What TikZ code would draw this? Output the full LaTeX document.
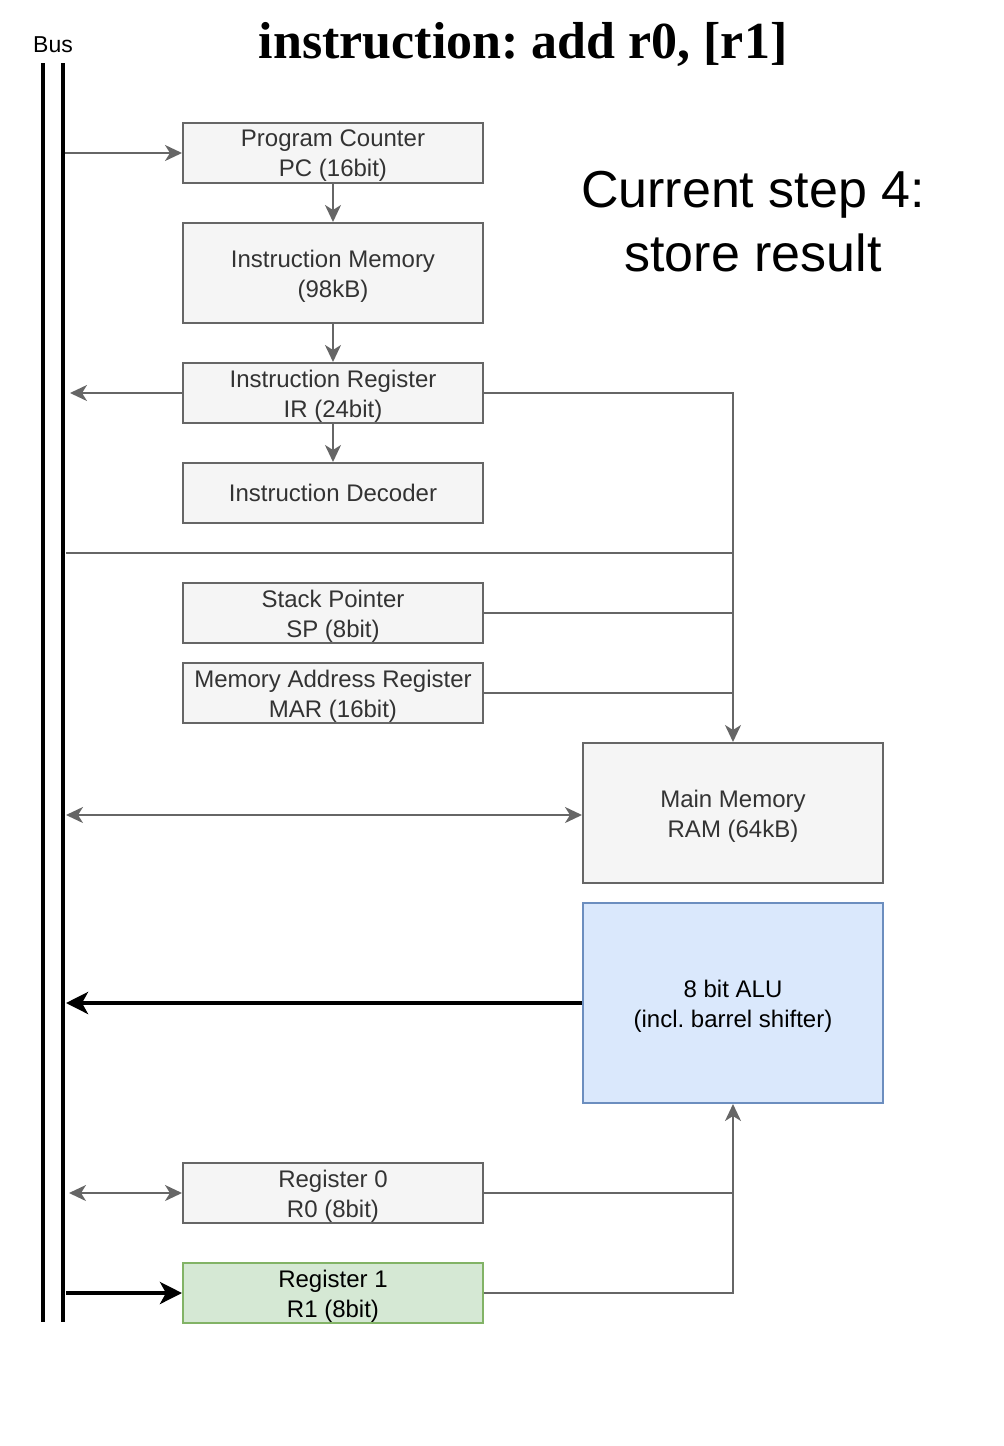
\documentclass[tikz,border=0pt]{standalone}
\usepackage{fontspec}
\setmainfont{Liberation Sans}
\newfontfamily\titlefont{Liberation Serif}
\usetikzlibrary{arrows.meta}
\frenchspacing
\definecolor{gfill}{HTML}{F5F5F5}
\definecolor{gstroke}{HTML}{666666}
\definecolor{gtext}{HTML}{333333}
\definecolor{bfill}{HTML}{DAE8FC}
\definecolor{bstroke}{HTML}{6C8EBF}
\definecolor{grfill}{HTML}{D5E8D4}
\definecolor{grstroke}{HTML}{82B366}
\tikzset{
  box/.style={draw=gstroke, fill=gfill, line width=2pt, minimum width=300pt, minimum height=60pt,
    inner sep=0pt},
  btext/.style={inner sep=0pt, align=center, text=gtext, font=\fontsize{24}{30}\selectfont},
  gline/.style={draw=gstroke, line width=2pt},
  garr/.style={gline, -{Stealth[length=17pt,width=16pt,inset=5pt]}},
  gdarr/.style={gline, {Stealth[length=17pt,width=16pt,inset=5pt]}-{Stealth[length=17pt,width=16pt,inset=5pt]}},
  barr/.style={draw=black, line width=4pt, -{Stealth[length=22pt,width=22pt,inset=6pt]}},
  busline/.style={draw=black, line width=4pt},
}
\begin{document}
\begin{tikzpicture}[x=1pt,y=-1pt]
\useasboundingbox (0,0) rectangle (1004,1446);
% bus
\coordinate (busLtop) at (43,63);
\coordinate (busLbot) at (43,1322);
\coordinate (busRtop) at (63,63);
\coordinate (busRbot) at (63,1322);
\draw[busline] (busLtop) -- (busLbot);
\draw[busline] (busRtop) -- (busRbot);
\node[font=\fontsize{23}{28}\selectfont] (buslabel) at (53,45) {Bus};
% title
\node[font=\titlefont\bfseries\fontsize{52}{60}\selectfont] (title) at (523,44) {instruction: add r0, [r1]};
\node[align=center, font=\fontsize{52}{64}\selectfont] (step) at (753,222) {Current step 4:\\store result};
% boxes
\node[box] (pc) at (333,153) {};
\node[box, minimum height=100pt] (im) at (333,273) {};
\node[box] (ir) at (333,393) {};
\node[box] (id) at (333,493) {};
\node[box] (sp) at (333,613) {};
\node[box] (mar) at (333,693) {};
\node[box, minimum height=140pt] (mm) at (733,813) {};
\node[box, minimum height=200pt, fill=bfill, draw=bstroke] (alu) at (733,1003) {};
\node[box] (r0) at (333,1193) {};
\node[box, fill=grfill, draw=grstroke] (r1) at (333,1293) {};
% box texts
\node[btext] (pct) at ([yshift=-3pt]pc.center) {Program Counter\\PC (16bit)};
\node[btext] (imt) at ([yshift=-3pt]im.center) {Instruction Memory\\(98kB)};
\node[btext] (irt) at ([yshift=-3pt]ir.center) {Instruction Register\\IR (24bit)};
\node[btext] (idt) at (id.center) {Instruction Decoder};
\node[btext] (spt) at ([yshift=-3pt]sp.center) {Stack Pointer\\SP (8bit)};
\node[btext] (mart) at ([yshift=-3pt]mar.center) {Memory Address Register\\MAR (16bit)};
\node[btext] (mmt) at ([yshift=-3pt]mm.center) {Main Memory\\RAM (64kB)};
\node[btext, text=black] (alut) at ([yshift=-3pt]alu.center) {8 bit ALU\\(incl. barrel shifter)};
\node[btext] (r0t) at ([yshift=-3pt]r0.center) {Register 0\\R0 (8bit)};
\node[btext, text=black] (r1t) at ([yshift=-3pt]r1.center) {Register 1\\R1 (8bit)};
% bus attachment points
\coordinate (bPC) at (65,153);
\coordinate (bIR) at (70,393);
\coordinate (bCtl) at (66,553);
\coordinate (bMM) at (66,815);
\coordinate (bALU) at (66,1003);
\coordinate (bR0) at (69,1193);
\coordinate (bR1) at (66,1293);
% connectors
\draw[garr] (bPC) -- (pc.west);
\draw[garr] (pc.south) -- (im.north);
\draw[garr] (im.south) -- (ir.north);
\draw[garr] (ir.west) -- (bIR);
\draw[garr] (ir.south) -- (id.north);
\draw[garr] (ir.east) -| (mm.north);
\draw[gline] (bCtl) -- (bCtl -| mm.north);
\draw[gline] (sp.east) -- (sp.east -| mm.north);
\draw[gline] (mar.east) -- (mar.east -| mm.north);
\draw[gdarr] (bMM) -- (bMM -| mm.west);
\draw[barr] (alu.west) -- (bALU);
\draw[gdarr] (bR0) -- (r0.west);
\draw[barr] (bR1) -- (r1.west);
\draw[garr] (r0.east) -| (alu.south);
\draw[gline] (r1.east) -| (r0.east -| alu.south);
\end{tikzpicture}
\end{document}
